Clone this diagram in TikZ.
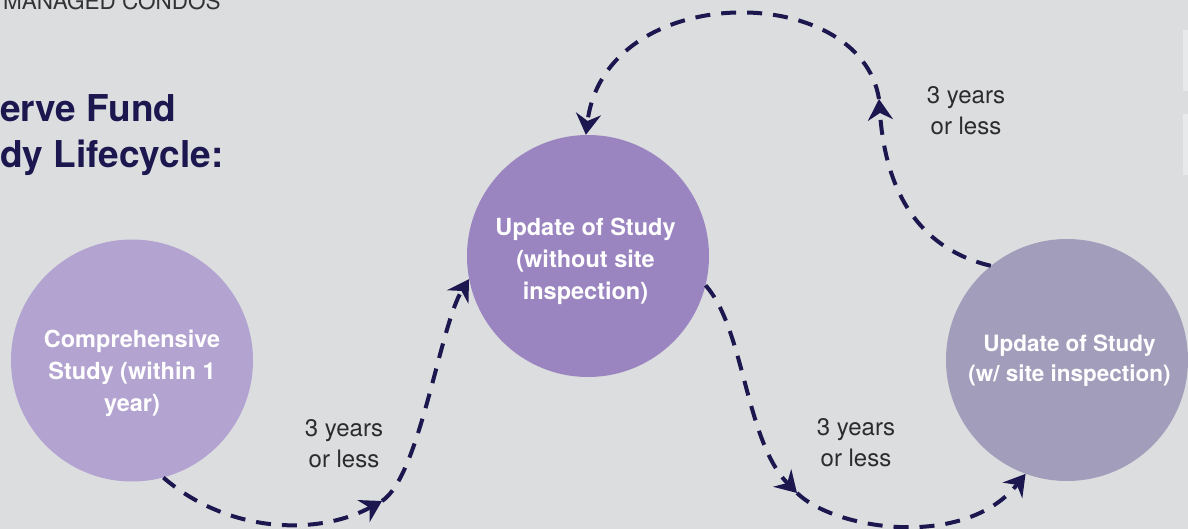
\documentclass[tikz,border=0pt]{standalone}
\usepackage{fontspec}
\setmainfont{TeX Gyre Heros}
\usetikzlibrary{arrows.meta}

\definecolor{pagebg}{HTML}{DCDDDF}
\definecolor{panel}{HTML}{E8E9EB}
\definecolor{navy}{HTML}{1D1750}
\definecolor{inkgray}{HTML}{2B2B2B}
\definecolor{hdrgray}{HTML}{333333}
\definecolor{lilacA}{HTML}{B3A3D0}
\definecolor{lilacB}{HTML}{9A85C0}
\definecolor{lilacC}{HTML}{A29DBB}

\tikzset{
  stage/.style={circle, minimum size=242pt, inner sep=0pt, draw=none},
  stagetext/.style={text=white, align=center, inner sep=0pt,
    font=\bfseries\fontsize{23.5}{32}\selectfont},
  gaplabel/.style={text=inkgray, align=center, inner sep=0pt,
    font=\fontsize{24}{31}\selectfont},
  heading/.style={text=navy, anchor=base west, inner sep=0pt,
    font=\bfseries\fontsize{37}{44}\selectfont},
  flow/.style={draw=navy, line width=4pt, dash pattern=on 15pt off 11pt,
    -{Stealth[length=21pt, width=25pt, inset=7pt]}},
}

\begin{document}
\begin{tikzpicture}[x=1pt, y=-1pt]
\useasboundingbox (0,0) rectangle (1188,529);
\clip (0,0) rectangle (1188,529);
\fill[pagebg] (0,0) rectangle (1188,529);

% side panels at the right edge
\fill[panel] (1183,30) rectangle (1188,91);
\fill[panel] (1183,114) rectangle (1188,175);

% header and title
\node[anchor=base west, inner sep=0pt, text=hdrgray,
  font=\fontsize{22.5}{27}\selectfont] (hdr) at (3,10) {MANAGED CONDOS};
\node[heading] (t1) at (0,122) {erve Fund};
\node[heading] (t2) at (0,168) {dy Lifecycle:};

% study stages
\node[stage, fill=lilacA] (L) at (132,360.5) {};
\node[stage, fill=lilacB] (M) at (588,256) {};
\node[stage, fill=lilacC] (R) at (1067,360) {};

\node[stagetext] (Lt) at (132,373) {Comprehensive\\Study (within 1\\year)};
\node[stagetext] (Mt) at (585.5,261) {Update of Study\\(without site\\inspection)};
\node[stagetext, font=\bfseries\fontsize{22.5}{30}\selectfont] (Rt) at (1069.5,361)
  {Update of Study\\(w/ site inspection)};

% interval labels
\node[gaplabel] (g1) at (344,443.5) {3 years\\or less};
\node[gaplabel] (g2) at (856,442.5) {3 years\\or less};
\node[gaplabel] (g3) at (966,110.5) {3 years\\or less};

% mid-path arrow points
\coordinate (m1) at (382,501);
\coordinate (m2) at (797,493);
\coordinate (m3) at (879,99);

% comprehensive study -> update without inspection
\draw[flow] (L.-75) .. controls (230,535) and (320,535) .. (m1);
\draw[flow] (m1) .. controls (420,476) and (440,325) .. (M.191);

% update without inspection -> update with inspection
\draw[flow] (M.-14) .. controls (745,330) and (745,440) .. (m2);
\draw[flow] (m2) .. controls (835,530) and (965,550) .. (R.-110);

% update with inspection -> back to update without inspection
\draw[flow] (R.129) .. controls (925,250) and (886,200) .. (m3);
\draw[flow] (m3) .. controls (860,-20) and (605,-20) .. (M.91);
\end{tikzpicture}
\end{document}
